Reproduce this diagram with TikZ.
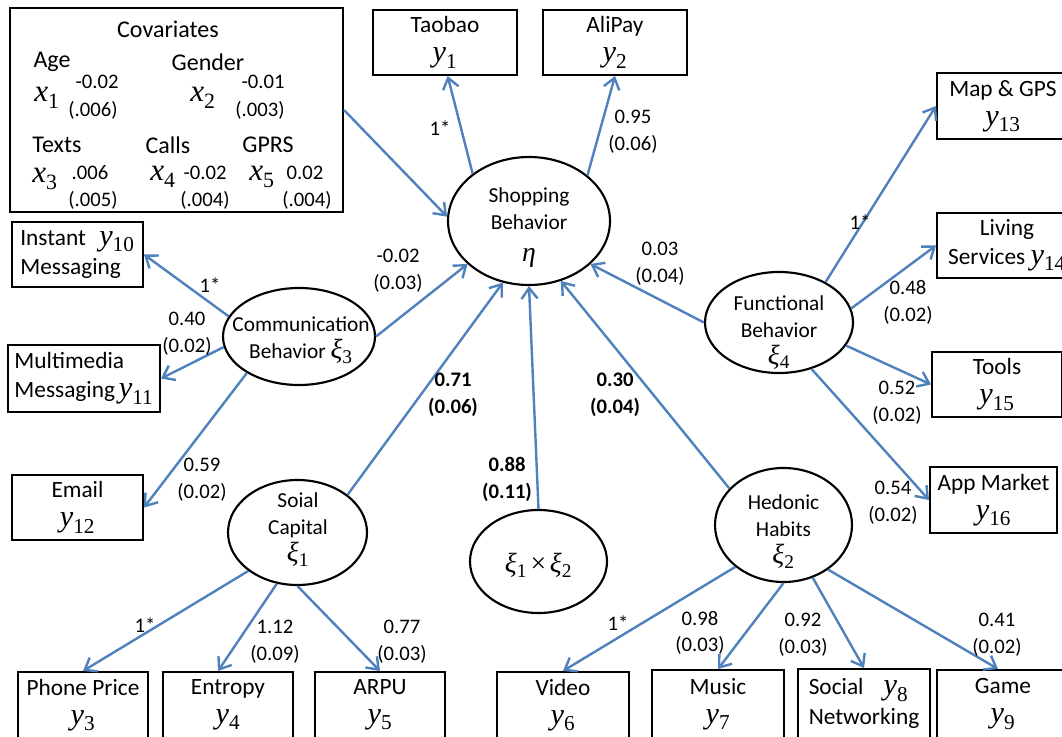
\documentclass[tikz,border=0pt]{standalone}
\usepackage{fontspec}
\setmainfont{Carlito}
\newfontfamily\mathish[Scale=1.3]{Liberation Serif}
\newcommand\vv[2]{{\mathish\itshape #1}\textsubscript{\mathish #2}}
\usetikzlibrary{arrows.meta,shapes.geometric,calc}
\definecolor{arrowblue}{RGB}{79,129,189}
\newcommand\bxfont{\fontsize{17.5}{22}\selectfont}
\newcommand\elfont{\fontsize{16}{20}\selectfont}
\newcommand\lbfont{\fontsize{15.5}{20}\selectfont}
\newcommand\cvfont{\fontsize{18}{22}\selectfont}
\tikzset{
  wh/.style 2 args={minimum width=#1*0.75pt, minimum height=#2*0.75pt},
  box/.style={draw, line width=1.5pt, inner sep=0pt, align=center, font=\bxfont},
  latent/.style={draw, ellipse, line width=1.6pt, inner sep=0pt},
  ltext/.style={align=center, font=\elfont, inner sep=0pt},
  coef/.style={align=center, font=\lbfont, inner sep=0pt},
  bcoef/.style={align=center, font=\lbfont\bfseries, inner sep=0pt},
  cvtext/.style={font=\cvfont, inner sep=0pt},
  cvnum/.style={align=center, font=\lbfont, inner sep=0pt},
  conn/.style={draw=arrowblue, line width=1.8pt, -{Straight Barb[length=8pt,width=12pt]}},
}
\begin{document}
\begin{tikzpicture}[x=0.75pt,y=-0.75pt]
\useasboundingbox (0,0) rectangle (1062,737);
\fill[white] (0,0) rectangle (1062,737);
\clip (0,0) rectangle (1062,737);

% covariates
\node[box, wh={333}{204}] (cov) at (176.5,110) {};
\node[cvtext] (cvt) at (168,29) {Covariates};
\node[cvtext] (cage) at (52,62) {Age};
\node[cvtext] (cx1) at (47,98) {\vv{x}{1}};
\node[cvnum] (cn1) at (97,82) {-0.02};
\node[cvnum] (cs1) at (93,110) {(.006)};
\node[cvtext] (cgen) at (208,62) {Gender};
\node[cvtext] (cx2) at (203,98) {\vv{x}{2}};
\node[cvnum] (cn2) at (263,82) {-0.01};
\node[cvnum] (cs2) at (260,110) {(.003)};
\node[cvtext] (ctex) at (57,145) {Texts};
\node[cvtext] (cx3) at (45,179) {\vv{x}{3}};
\node[cvnum] (cn3) at (90,173) {.006};
\node[cvnum] (cs3) at (93,200) {(.005)};
\node[cvtext] (ccal) at (168,145) {Calls};
\node[cvtext] (cx4) at (163,177) {\vv{x}{4}};
\node[cvnum] (cn4) at (205,173) {-0.02};
\node[cvnum] (cs4) at (205,200) {(.004)};
\node[cvtext] (cgprs) at (268,145) {GPRS};
\node[cvtext] (cx5) at (262,177) {\vv{x}{5}};
\node[cvnum] (cn5) at (305,173) {0.02};
\node[cvnum] (cs5) at (307,200) {(.004)};

% observed boxes
\node[box, wh={144}{65}] (tb) at (445,42.5) {Taobao\\\vv{y}{1}};
\node[box, wh={144}{65}] (ap) at (615,42.5) {AliPay\\\vv{y}{2}};
\node[box, wh={132}{66}] (mg) at (1003,106) {Map \& GPS\\\vv{y}{13}};
\node[box, wh={140}{65}] (ls) at (1007,245.5) {Living\\Services \vv{y}{14}};
\node[box, wh={130}{65}] (tl) at (997,384.5) {Tools\\\vv{y}{15}};
\node[box, wh={127}{66}] (am) at (993.5,500) {App Market\\\vv{y}{16}};
\node[box, align=left, wh={131}{65}] (im) at (77.5,254.5) {Instant\hspace{10pt}\vv{y}{10}\\Messaging};
\node[box, align=left, wh={152}{67}] (mm) at (84,378.5) {Multimedia\\Messaging\,\vv{y}{11}};
\node[box, wh={131}{65}] (em) at (77.5,507.5) {Email\\\vv{y}{12}};
\node[box, wh={130}{66}] (pp) at (83,705) {Phone Price\\\vv{y}{3}};
\node[box, wh={130}{66}] (en) at (228,705) {Entropy\\\vv{y}{4}};
\node[box, wh={130}{66}] (ar) at (380,705) {ARPU\\\vv{y}{5}};
\node[box, wh={132}{66}] (vi) at (563,705) {Video\\\vv{y}{6}};
\node[box, wh={132}{68}] (mu) at (718,704) {Music\\\vv{y}{7}};
\node[box, align=left, wh={132}{69}] (sn) at (864,703.5) {Social\hspace{15pt}\vv{y}{8}\\Networking};
\node[box, wh={132}{68}] (ga) at (1003,704) {Game\\\vv{y}{9}};

% latent ellipses
\node[latent, wh={162}{128}] (sb) at (529,221) {};
\node[ltext] (sbt) at (529,227.5) {Shopping\\Behavior\\[4pt]{\mathish\itshape η}};
\node[latent, wh={152}{97}] (cb) at (299,336.5) {};
\node[ltext] (cbt) at (301,340) {Communication\\Behavior \vv{ξ}{3}};
\node[latent, wh={148}{101}] (fb) at (779,322.5) {};
\node[ltext] (fbt) at (779,332.5) {Functional\\Behavior\\\vv{ξ}{4}};
\node[latent, wh={139}{105}] (sc) at (297.5,532.5) {};
\node[ltext] (sct) at (298,529.5) {Soial\\Capital\\\vv{ξ}{1}};
\node[latent, wh={137}{114}] (hh) at (783.5,525) {};
\node[ltext] (hht) at (783.5,531.5) {Hedonic\\Habits\\\vv{ξ}{2}};
\node[latent, wh={137}{103}] (ix) at (538.5,561.5) {};
\node[ltext] (ixt) at (538.5,565) {\vv{ξ}{1}\,{\mathish ×}\,\vv{ξ}{2}};

% connectors
\draw[conn] (cov.east) -- (sb.177);
\draw[conn] (sb.140) -- ([xshift=2pt]tb.south);
\draw[conn] (sb.38) -- (ap.south);
\draw[conn] (cb.east) -- (sb.215);
\draw[conn] (sc.37) -- (sb.247);
\draw[conn] (ix.north) -- (sb.south);
\draw[conn] (hh.146) -- (sb.298);
\draw[conn] (fb.west) -- (sb.325);
\draw[conn] (cb.164) -- (im.east);
\draw[conn] (cb.188) -- (mm.east);
\draw[conn] (cb.215) -- (em.east);
\draw[conn] (fb.41) -- (mg.west);
\draw[conn] (fb.11) -- (ls.west);
\draw[conn] (fb.341) -- (tl.west);
\draw[conn] (fb.305) -- (am.west);
\draw[conn] (sc.218) -- (pp.north);
\draw[conn] (sc.248) -- ([xshift=-7.5pt]en.north);
\draw[conn] (sc.270) -- (ar.north);
\draw[conn] (hh.221) -- (vi.north);
\draw[conn] (hh.south) -- (mu.north);
\draw[conn] (hh.299) -- (sn.north);
\draw[conn] (hh.315) -- ([xshift=-3.75pt]ga.north);

% coefficient labels
\node[coef] (l1) at (440,128) {1*};
\node[coef] (l2) at (633,131.5) {0.95\\(0.06)};
\node[coef] (l3) at (398,270.5) {-0.02\\(0.03)};
\node[coef] (l4) at (660,263.5) {0.03\\(0.04)};
\node[coef] (l5) at (210,285) {1*};
\node[coef] (l6) at (187,333.5) {0.40\\(0.02)};
\node[coef] (l7) at (202,479.5) {0.59\\(0.02)};
\node[bcoef] (l8) at (453,395) {0.71\\(0.06)};
\node[bcoef] (l9) at (615,395) {0.30\\(0.04)};
\node[bcoef] (l10) at (507,479.5) {0.88\\(0.11)};
\node[coef] (l11) at (860,222) {1*};
\node[coef] (l12) at (908,302.5) {0.48\\(0.02)};
\node[coef] (l13) at (897,402.5) {0.52\\(0.02)};
\node[coef] (l14) at (893,502.5) {0.54\\(0.02)};
\node[coef] (l15) at (145,625) {1*};
\node[coef] (l16) at (275,641.5) {1.12\\(0.09)};
\node[coef] (l17) at (402,641.5) {0.77\\(0.03)};
\node[coef] (l18) at (618,623) {1*};
\node[coef] (l19) at (700,633) {0.98\\(0.03)};
\node[coef] (l20) at (803,634.5) {0.92\\(0.03)};
\node[coef] (l21) at (997,635) {0.41\\(0.02)};
\end{tikzpicture}
\end{document}
